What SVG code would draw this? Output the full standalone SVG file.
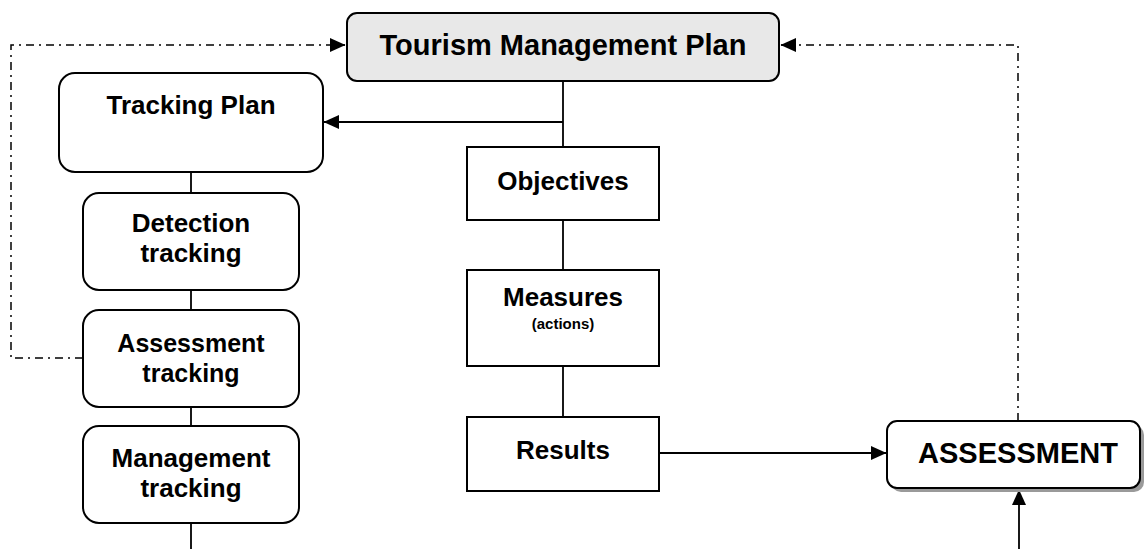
<svg xmlns="http://www.w3.org/2000/svg" width="1144" height="549" viewBox="0 0 1144 549">
  <style>
    .box { fill: #ffffff; stroke: #000000; stroke-width: 2; }
    .grey { fill: #e8e8e8; stroke: #000000; stroke-width: 2; }
    .shadow { fill: #9a9a9a; stroke: none; }
    .t { font-family: "Liberation Sans", Arial, sans-serif; font-weight: bold; fill: #000000; text-anchor: middle; }
    .line { fill: none; stroke: #000000; stroke-width: 1.8; }
    .dash { fill: none; stroke: #000000; stroke-width: 1.5; stroke-dasharray: 8 5 2 5; }
  </style>
  <defs>
    <marker id="arrow" markerUnits="userSpaceOnUse" markerWidth="16" markerHeight="16" refX="15" refY="8" orient="auto" viewBox="0 0 16 16">
      <path d="M0,1 L15.5,8 L0,15 z" fill="#000000" stroke="none"/>
    </marker>
  </defs>

  <g id="connectors">
    <path class="dash" d="M83,358 H11 V45 H332"/>
    <path class="line" d="M332,45 H345" marker-end="url(#arrow)"/>
    <path class="dash" d="M1018,421 V45 H795"/>
    <path class="line" d="M795,45 H781" marker-end="url(#arrow)"/>
    <path class="line" d="M563,81 V147"/>
    <path class="line" d="M563,122 H324" marker-end="url(#arrow)"/>
    <path class="line" d="M563,220 V270"/>
    <path class="line" d="M563,366 V417"/>
    <path class="line" d="M659,453 H886" marker-end="url(#arrow)"/>
    <path class="line" d="M1019,549 V490" marker-end="url(#arrow)"/>
    <path class="line" d="M191,172 V193"/>
    <path class="line" d="M191,290 V310"/>
    <path class="line" d="M191,407 V426"/>
    <path class="line" d="M191,523 V549"/>
  </g>

  <g id="tourism-management-plan">
    <rect class="grey" x="347" y="13" width="432" height="68" rx="10" ry="10"/>
    <text class="t" x="563" y="55" font-size="29">Tourism Management Plan</text>
  </g>

  <g id="tracking-plan">
    <rect class="box" x="59" y="73" width="264" height="99" rx="16" ry="16"/>
    <text class="t" x="191" y="114" font-size="26">Tracking Plan</text>
  </g>

  <g id="detection-tracking">
    <rect class="box" x="83" y="193" width="216" height="97" rx="16" ry="16"/>
    <text class="t" x="191" y="232" font-size="26">Detection</text>
    <text class="t" x="191" y="262" font-size="26">tracking</text>
  </g>

  <g id="assessment-tracking">
    <rect class="box" x="83" y="310" width="216" height="97" rx="16" ry="16"/>
    <text class="t" x="191" y="352" font-size="25">Assessment</text>
    <text class="t" x="191" y="382" font-size="25">tracking</text>
  </g>

  <g id="management-tracking">
    <rect class="box" x="83" y="426" width="216" height="97" rx="16" ry="16"/>
    <text class="t" x="191" y="467" font-size="26">Management</text>
    <text class="t" x="191" y="497" font-size="26">tracking</text>
  </g>

  <g id="objectives">
    <rect class="box" x="467" y="147" width="192" height="73"/>
    <text class="t" x="563" y="190" font-size="26">Objectives</text>
  </g>

  <g id="measures">
    <rect class="box" x="467" y="270" width="192" height="96"/>
    <text class="t" x="563" y="306" font-size="26">Measures</text>
    <text class="t" x="563" y="329" font-size="15">(actions)</text>
  </g>

  <g id="results">
    <rect class="box" x="467" y="417" width="192" height="74"/>
    <text class="t" x="563" y="459" font-size="26">Results</text>
  </g>

  <g id="assessment">
    <rect class="shadow" x="891" y="425" width="253" height="67" rx="10" ry="10"/>
    <rect class="box" x="887" y="421" width="253" height="67" rx="10" ry="10"/>
    <text class="t" x="1018" y="463" font-size="29">ASSESSMENT</text>
  </g>
</svg>
